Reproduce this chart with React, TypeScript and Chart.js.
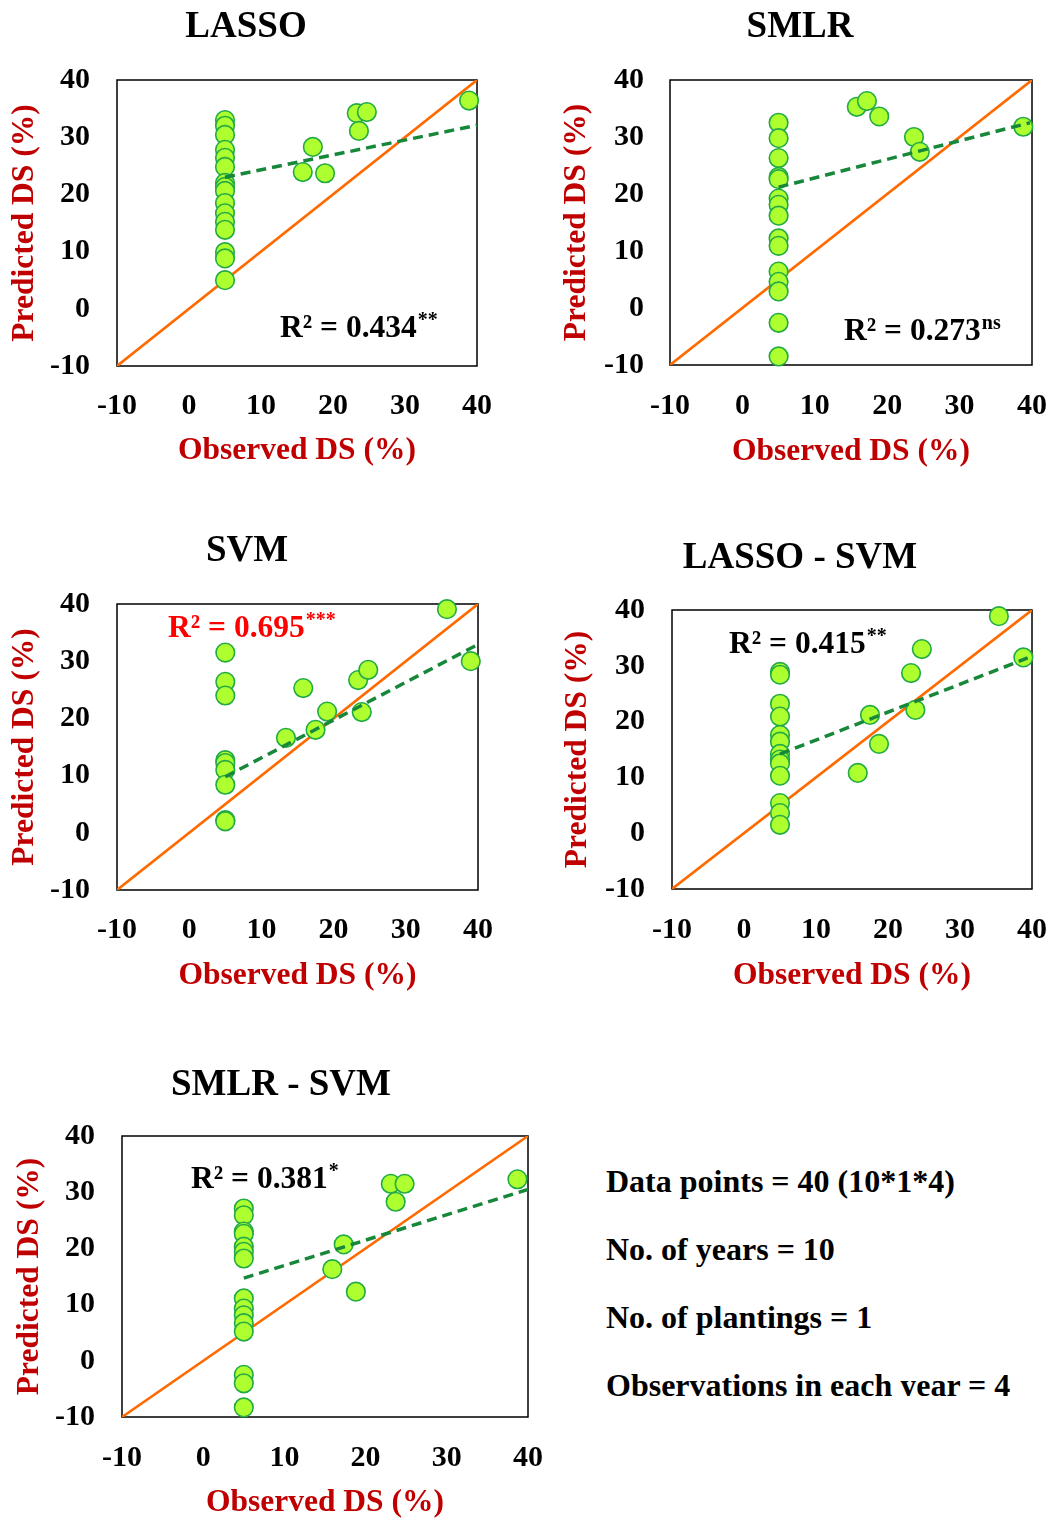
import React, { useEffect, useRef } from "react";
import { Chart, registerables } from "chart.js";

Chart.register(...registerables);

const FONT = '"Liberation Serif", "Times New Roman", serif';

// ---------- data ----------
const axisMin = -10;
const axisMax = 40;
const axisStep = 10;

const identityX = [-10, 40];
const identityY = [-10, 40];

const lassoObserved = [5, 5, 5, 5, 5, 5, 5, 5, 5, 5, 5, 5, 5, 5, 5, 5, 15.8, 17.2, 18.9, 23.3, 23.6, 24.7, 38.9];
const lassoPredicted = [33.0, 32.0, 30.4, 27.8, 26.4, 24.8, 22.0, 21.3, 20.6, 18.5, 16.7, 15.2, 13.8, 9.9, 8.8, 5.0, 23.9, 28.3, 23.7, 34.2, 31.1, 34.4, 36.4];
const lassoTrendX = [5, 40];
const lassoTrendY = [23.0, 32.1];

const smlrObserved = [5, 5, 5, 5, 5, 5, 5, 5, 5, 5, 5, 5, 5, 5, 5, 15.8, 17.2, 18.9, 23.7, 24.5, 38.8];
const smlrPredicted = [32.5, 29.8, 26.3, 23.0, 22.6, 19.2, 18.1, 16.2, 12.2, 10.9, 6.4, 4.6, 2.9, -2.6, -8.5, 35.3, 36.3, 33.6, 30.0, 27.4, 31.8];
const smlrTrendX = [5, 39.7];
const smlrTrendY = [21.2, 32.5];

const svmObserved = [5, 5, 5, 5, 5, 5, 5, 5, 5, 13.4, 15.8, 17.5, 19.1, 23.4, 23.9, 24.8, 35.7, 39.0];
const svmPredicted = [31.5, 26.4, 24.0, 12.7, 12.2, 11.0, 8.4, 2.2, 2.0, 16.6, 25.3, 18.0, 21.2, 26.7, 21.1, 28.5, 39.1, 30.0];
const svmTrendX = [5, 39.8];
const svmTrendY = [9.8, 32.8];

const lassoSvmObserved = [5, 5, 5, 5, 5, 5, 5, 5, 5, 5, 5, 5, 5, 15.8, 17.5, 18.75, 23.2, 23.8, 24.7, 35.4, 38.8];
const lassoSvmPredicted = [28.9, 28.4, 23.2, 20.9, 17.6, 16.4, 14.2, 13.2, 12.5, 10.3, 5.4, 3.6, 1.5, 10.8, 21.2, 16.0, 28.7, 22.1, 33.0, 38.9, 31.5];
const lassoSvmTrendX = [5, 39.4];
const lassoSvmTrendY = [14.2, 31.4];

const smlrSvmObserved = [5, 5, 5, 5, 5, 5, 5, 5, 5, 5, 5, 5, 5, 5, 5, 15.9, 17.3, 18.8, 23.1, 24.8, 23.7, 38.7];
const smlrSvmPredicted = [27.1, 25.9, 23.0, 22.6, 20.3, 19.4, 18.2, 11.1, 9.3, 8.1, 6.7, 5.2, -2.5, -4.0, -8.3, 16.3, 20.7, 12.3, 31.5, 31.5, 28.3, 32.3];
const smlrSvmTrendX = [5, 40];
const smlrSvmTrendY = [14.7, 30.5];

const panelTitles = ["LASSO", "SMLR", "SVM", "LASSO - SVM", "SMLR - SVM"];
const r2Values = ["0.434", "0.273", "0.695", "0.415", "0.381"];
const r2Significance = ["**", "ns", "***", "**", "*"];

const xAxisTitle = "Observed DS (%)";
const yAxisTitle = "Predicted DS (%)";

const infoLines = [
  "Data points = 40 (10*1*4)",
  "No. of years = 10",
  "No. of plantings = 1",
  "Observations in each year = 4",
];

// ---------- layout / style ----------
type Panel = {
  title: string;
  r2: string;
  sig: string;
  r2Color: string;
  obs: number[];
  pred: number[];
  trendX: number[];
  trendY: number[];
  left: number;
  top: number;
  width: number;
  height: number;
  area: { l: number; t: number; r: number; b: number };
  yTitlePad: number;
  yTickPad: number;
  xTickPad: number;
  xTitlePad: number;
  titleX: number;
  titleY: number;
  r2X: number;
  r2Y: number;
};

const panels: Panel[] = [
  {
    title: panelTitles[0], r2: r2Values[0], sig: r2Significance[0], r2Color: "#000000",
    obs: lassoObserved, pred: lassoPredicted, trendX: lassoTrendX, trendY: lassoTrendY,
    left: 0, top: 0, width: 520, height: 480,
    area: { l: 117, t: 80, r: 477, b: 366 },
    yTitlePad: 6.4, yTickPad: 27, xTickPad: 22, xTitlePad: 10,
    titleX: 246, titleY: 37, r2X: 280, r2Y: 337,
  },
  {
    title: panelTitles[1], r2: r2Values[1], sig: r2Significance[1], r2Color: "#000000",
    obs: smlrObserved, pred: smlrPredicted, trendX: smlrTrendX, trendY: smlrTrendY,
    left: 540, top: 0, width: 517, height: 480,
    area: { l: 670, t: 80, r: 1032, b: 365 },
    yTitlePad: 18.4, yTickPad: 26, xTickPad: 23, xTitlePad: 9,
    titleX: 800, titleY: 37, r2X: 844, r2Y: 340,
  },
  {
    title: panelTitles[2], r2: r2Values[2], sig: r2Significance[2], r2Color: "#FF0000",
    obs: svmObserved, pred: svmPredicted, trendX: svmTrendX, trendY: svmTrendY,
    left: 0, top: 500, width: 520, height: 500,
    area: { l: 117, t: 604, r: 478, b: 890 },
    yTitlePad: 6.4, yTickPad: 27, xTickPad: 22, xTitlePad: 5,
    titleX: 247, titleY: 561, r2X: 168, r2Y: 637,
  },
  {
    title: panelTitles[3], r2: r2Values[3], sig: r2Significance[3], r2Color: "#000000",
    obs: lassoSvmObserved, pred: lassoSvmPredicted, trendX: lassoSvmTrendX, trendY: lassoSvmTrendY,
    left: 540, top: 500, width: 517, height: 500,
    area: { l: 672, t: 610, r: 1032, b: 889 },
    yTitlePad: 19.4, yTickPad: 27, xTickPad: 23, xTitlePad: 5,
    titleX: 800, titleY: 568, r2X: 729, r2Y: 653,
  },
  {
    title: panelTitles[4], r2: r2Values[4], sig: r2Significance[4], r2Color: "#000000",
    obs: smlrSvmObserved, pred: smlrSvmPredicted, trendX: smlrSvmTrendX, trendY: smlrSvmTrendY,
    left: 0, top: 1030, width: 560, height: 489,
    area: { l: 122, t: 1136, r: 528, b: 1417 },
    yTitlePad: 11.4, yTickPad: 27, xTickPad: 23, xTitlePad: -3,
    titleX: 281, titleY: 1095, r2X: 191, r2Y: 1188,
  },
];

const ORANGE = "#FF6A00";
const TREND_GREEN = "#17873A";
const POINT_FILL = "#ADFF2F";
const POINT_BORDER = "#22AA44";
const AXIS_RED = "#C00000";

function toXY(xs: number[], ys: number[]) {
  return xs.map((x, i) => ({ x, y: ys[i] }));
}

function decoPlugin(p: Panel) {
  return {
    id: "panelDeco",
    beforeDatasetsDraw(chart: any) {
      const { ctx, chartArea: a } = chart;
      ctx.save();
      ctx.strokeStyle = "#000";
      ctx.lineWidth = 1.5;
      ctx.strokeRect(a.left, a.top, a.right - a.left, a.bottom - a.top);
      ctx.restore();
    },
    afterDraw(chart: any) {
      const ctx = chart.ctx;
      ctx.save();
      ctx.fillStyle = "#000";
      ctx.font = `bold 37px ${FONT}`;
      ctx.textAlign = "center";
      ctx.textBaseline = "alphabetic";
      ctx.fillText(p.title, p.titleX - p.left, p.titleY - p.top);

      ctx.textAlign = "left";
      ctx.fillStyle = p.r2Color;
      ctx.font = `bold 31.5px ${FONT}`;
      const main = `R² = ${p.r2}`;
      const x0 = p.r2X - p.left;
      const y0 = p.r2Y - p.top;
      ctx.fillText(main, x0, y0);
      const w = ctx.measureText(main).width;
      ctx.font = `bold 20px ${FONT}`;
      ctx.fillText(p.sig, x0 + w + 1, y0 - 11);
      ctx.restore();
    },
  };
}

function PanelChart({ p }: { p: Panel }) {
  const ref = useRef<HTMLCanvasElement | null>(null);
  useEffect(() => {
    if (!ref.current) return;
    const tickFont = { family: FONT, size: 30, weight: "bold" as const };
    const titleFont = { family: FONT, size: 31.5, weight: "bold" as const };
    const chart = new Chart(ref.current, {
      type: "scatter",
      data: {
        datasets: [
          {
            label: "trend",
            data: toXY(p.trendX, p.trendY),
            showLine: true,
            borderColor: TREND_GREEN,
            borderWidth: 3.5,
            borderDash: [10, 6],
            pointRadius: 0,
            fill: false,
          } as any,
          {
            label: "points",
            data: toXY(p.obs, p.pred),
            pointRadius: 9.3,
            pointBackgroundColor: POINT_FILL,
            pointBorderColor: POINT_BORDER,
            pointBorderWidth: 1.6,
            clip: false,
          } as any,
          {
            label: "1:1",
            data: toXY(identityX, identityY),
            showLine: true,
            borderColor: ORANGE,
            borderWidth: 2.6,
            pointRadius: 0,
            fill: false,
          } as any,
        ],
      },
      options: {
        animation: false,
        responsive: true,
        maintainAspectRatio: false,
        layout: {
          padding: {
            left: 0,
            top: p.area.t - p.top,
            right: p.left + p.width - p.area.r,
            bottom: 0,
          },
        },
        plugins: {
          legend: { display: false },
          tooltip: { enabled: false },
          title: { display: false },
        },
        scales: {
          x: {
            type: "linear",
            min: axisMin,
            max: axisMax,
            afterFit: (s: any) => {
              s.height = p.top + p.height - p.area.b;
              s.paddingLeft = 0;
              s.paddingRight = 0;
            },
            ticks: {
              stepSize: axisStep,
              padding: p.xTickPad,
              font: tickFont,
              color: "#000",
              maxRotation: 0,
              autoSkip: false,
            },
            grid: { display: false, drawTicks: false },
            border: { display: false },
            title: {
              display: true,
              text: xAxisTitle,
              color: AXIS_RED,
              font: titleFont,
              padding: { top: 0, bottom: p.xTitlePad },
            },
          },
          y: {
            type: "linear",
            min: axisMin,
            max: axisMax,
            afterFit: (s: any) => {
              s.width = p.area.l - p.left;
              s.paddingTop = 0;
              s.paddingBottom = 0;
            },
            ticks: {
              stepSize: axisStep,
              padding: p.yTickPad,
              font: tickFont,
              color: "#000",
              autoSkip: false,
            },
            grid: { display: false, drawTicks: false },
            border: { display: false },
            title: {
              display: true,
              text: yAxisTitle,
              color: AXIS_RED,
              font: titleFont,
              padding: { top: p.yTitlePad, bottom: 0 },
            },
          },
        } as any,
      },
      plugins: [decoPlugin(p) as any],
    });
    return () => chart.destroy();
  }, [p]);

  return (
    <div
      style={{
        position: "absolute",
        left: p.left,
        top: p.top,
        width: p.width,
        height: p.height,
      }}
    >
      <canvas ref={ref} />
    </div>
  );
}

export default function App() {
  const baselines = [1192, 1260, 1328, 1396];
  return (
    <div
      style={{
        position: "absolute",
        left: 0,
        top: 0,
        width: 1057,
        height: 1519,
        overflow: "hidden",
        background: "#fff",
      }}
    >
      {panels.map((p, i) => (
        <PanelChart key={i} p={p} />
      ))}
      <div
        style={{
          position: "absolute",
          left: 606,
          top: 1150,
          width: 440,
          height: 246,
          overflow: "hidden",
        }}
      >
        {infoLines.map((t, i) => (
          <div
            key={i}
            style={{
              position: "absolute",
              left: 0,
              top: baselines[i] - 1150 - 27,
              whiteSpace: "nowrap",
              fontFamily: FONT,
              fontWeight: "bold",
              fontSize: 32,
              lineHeight: "32px",
              color: "#000",
            }}
          >
            {t}
          </div>
        ))}
      </div>
    </div>
  );
}
